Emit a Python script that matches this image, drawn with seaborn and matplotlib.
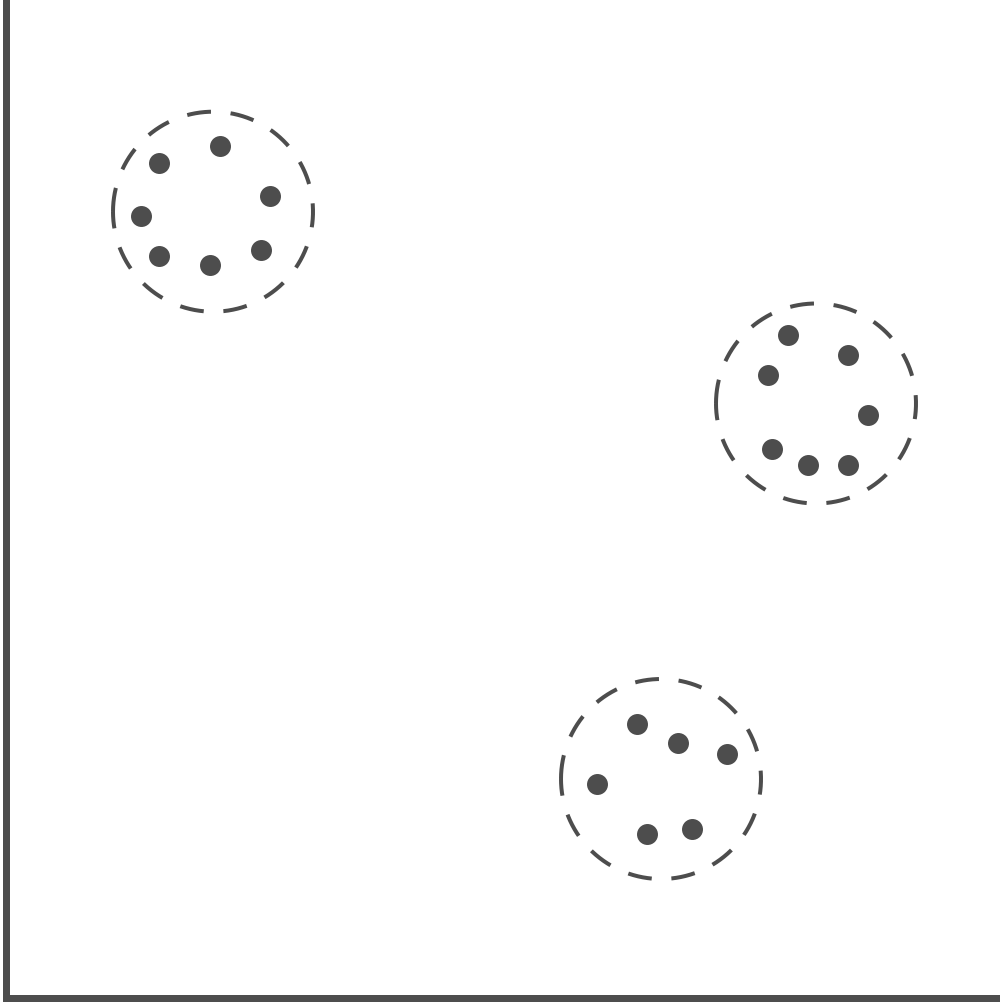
import matplotlib
matplotlib.use("Agg")
import matplotlib.pyplot as plt
import seaborn as sns
import pandas as pd
import numpy as np

sns.set_theme(style="white")

# Point data (x to the right, y upwards), grouped in three clusters
group = ["A"] * 7 + ["B"] * 7 + ["C"] * 6
x_vals = [214.5, 153.5, 264.5, 135.5, 153.5, 204.5, 255.5,
          782.5, 842.5, 762.5, 862.5, 766.5, 802.5, 842.5,
          631.5, 672.5, 721.5, 591.5, 641.5, 686.5]
y_vals = [852, 835, 802, 782, 742, 733, 748,
          663, 643, 623, 583, 549, 533, 533,
          274, 255, 244, 214, 164, 169]

# Cluster outlines
circle_x = [207.5, 810.5, 655.5]
circle_y = [786.3, 594.5, 219]
circle_r = [100, 100, 100]

COLOR = "#4d4d4d"

df = pd.DataFrame({"x": x_vals, "y": y_vals, "group": group})

fig = plt.figure(figsize=(10, 10.05), dpi=100)
ax = fig.add_axes([5.5 / 1000, 7 / 1005, (1000 - 5.5) / 1000, 998 / 1005])

sns.scatterplot(data=df, x="x", y="y", ax=ax, color=COLOR, s=228,
                linewidth=0, legend=False, zorder=3)

# dashed outlines, traced clockwise starting from the leftmost point
theta = np.linspace(np.pi, -np.pi, 1441)
lw = 2.88
for cx, cy, r in zip(circle_x, circle_y, circle_r):
    ax.plot(cx + r * np.cos(theta), cy + r * np.sin(theta), color=COLOR,
            linewidth=lw, linestyle=(0, (6.0, 4.92)),
            dash_capstyle="butt", zorder=2)

ax.set_xlim(0, 994.5)
ax.set_ylim(0, 998)
ax.set_xticks([])
ax.set_yticks([])
ax.set_xlabel("")
ax.set_ylabel("")
for side in ["top", "right"]:
    ax.spines[side].set_visible(False)
for side in ["left", "bottom"]:
    ax.spines[side].set_color(COLOR)
    ax.spines[side].set_linewidth(5.04)
    ax.spines[side].set_capstyle("projecting")

fig.savefig("out.png", dpi=100, facecolor="white")
